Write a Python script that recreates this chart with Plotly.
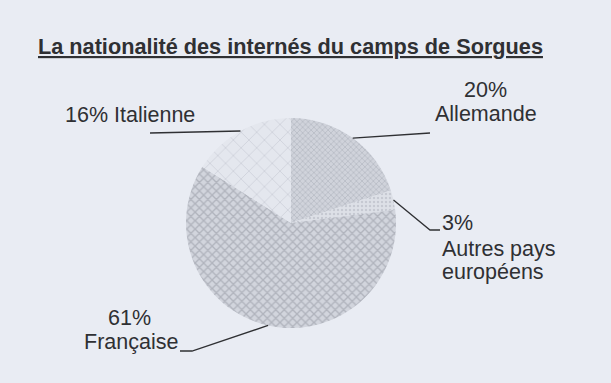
import math
import plotly.graph_objects as go

# ---- data ----
categories = ["Allemande", "Autres pays européens", "Française", "Italienne"]
values = [20, 3, 61, 16]
pct_labels = ["20%", "3%", "61%", "16%"]

# ---- canvas helpers (pixel -> paper) ----
W, H = 611, 383
def px(x):
    return x / W
def py(y):
    return 1 - y / H

BG = "#e9ecf3"
INK = "#2f3033"
FONT = "Liberation Sans, Arial, sans-serif"
FS = 21.5

# pie geometry (pixels)
CX, CY, R = 291, 223, 105

fig = go.Figure()
fig.add_trace(go.Pie(
    labels=categories,
    values=values,
    sort=False,
    direction="clockwise",
    rotation=0,
    textinfo="none",
    hoverinfo="label+percent",
    showlegend=False,
    domain=dict(x=[px(CX - R), px(CX + R)], y=[py(CY + R), py(CY - R)]),
    marker=dict(
        colors=["#d0d3db", "#dde0e7", "#d2d5dd", "#e4e7ee"],
        line=dict(width=0),
        pattern=dict(
            shape=["x", ".", "x", "x"],
            size=[4, 4, 6, 11],
            solidity=[0.35, 0.3, 0.4, 0.12],
            fgcolor=["#9ea2ac", "#aeb2bb", "#8f939d", "#aeb2bb"],
            fillmode="overlay",
        ),
    ),
))

# mid angle of each slice (clockwise from 12 o'clock), computed from the data
total = sum(values)
mids = []
acc = 0
for v in values:
    mids.append((acc + v / 2) / total * 360)
    acc += v

def edge(i):
    a = math.radians(mids[i])
    return CX + R * math.sin(a), CY - R * math.cos(a)

# leader lines: label-side anchor points then the pie edge
anchors = {
    0: [(430, 133)],
    1: [(440, 230), (430, 230)],
    2: [(180, 351), (192, 351)],
    3: [(150, 133)],
}
for i, pts in anchors.items():
    ex, ey = edge(i)
    full = pts + [(ex, ey)]
    path = "M " + " L ".join(f"{px(x)},{py(y)}" for x, y in full)
    fig.add_shape(type="path", xref="paper", yref="paper", path=path,
                  line=dict(color=INK, width=1.3))

def text(t, x, base, anchor="left", size=FS, bold=False):
    cy = base - 0.3465 * size
    fig.add_annotation(
        text=f"<b>{t}</b>" if bold else t,
        x=px(x), y=py(cy), xref="paper", yref="paper",
        xanchor=anchor, yanchor="middle", showarrow=False,
        borderpad=0,
        font=dict(family=FONT, size=size, color=INK),
    )

# title
text("<u>La nationalité des internés du camps de Sorgues</u>", 290.5, 54,
     anchor="center", size=21.7, bold=True)

# labels
text(f"{pct_labels[3]} {categories[3]}", 64, 122)
text(pct_labels[0], 485, 97, anchor="center")
text(categories[0], 486, 121, anchor="center")
text(pct_labels[1], 441, 230)
text("Autres pays", 441, 256)
text("européens", 441, 279)
text(pct_labels[2], 129, 325, anchor="center")
text(categories[2], 131, 349, anchor="center")

fig.update_layout(
    width=W, height=H,
    margin=dict(l=0, r=0, t=0, b=0),
    paper_bgcolor=BG, plot_bgcolor=BG,
)
fig.write_html(
    "out.html",
    config={"displayModeBar": False},
    post_script="document.body.style.margin='0';document.body.style.background='%s';" % BG,
)
